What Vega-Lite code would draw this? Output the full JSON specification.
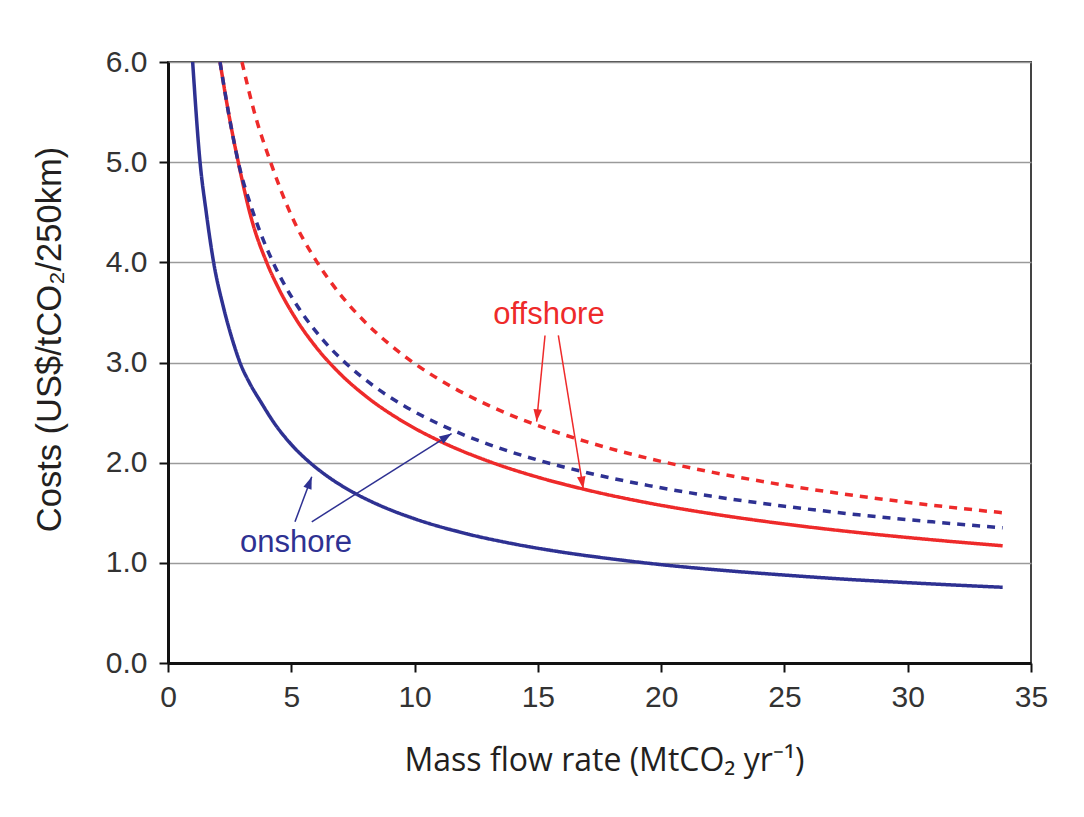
{
  "$schema": "https://vega.github.io/schema/vega-lite/v6.json",
  "width": 863,
  "height": 601,
  "autosize": {"type": "none"},
  "padding": {"left": 168, "top": 62, "right": 53, "bottom": 154},
  "background": "white",
  "config": {
    "view": {"stroke": "#444444", "strokeWidth": 2},
    "axis": {
      "domainColor": "#111111", "domainWidth": 3,
      "tickColor": "#111111", "tickWidth": 2, "tickSize": 9,
      "labelFont": "Liberation Sans", "labelFontSize": 30, "labelColor": "#333333",
      "labelFlush": false, "labelOverlap": false,
      "titleColor": "#231f20", "titleFontWeight": "normal"
    }
  },
  "datasets": {
    "curves": [
      {"location": "onshore", "estimate": "low", "x": 1.0, "y": 6.0},
      {"location": "onshore", "estimate": "low", "x": 1.3, "y": 5.0},
      {"location": "onshore", "estimate": "low", "x": 1.55, "y": 4.5},
      {"location": "onshore", "estimate": "low", "x": 1.85, "y": 4.0},
      {"location": "onshore", "estimate": "low", "x": 2.25, "y": 3.55},
      {"location": "onshore", "estimate": "low", "x": 2.62, "y": 3.22},
      {"location": "onshore", "estimate": "low", "x": 2.95, "y": 2.98},
      {"location": "onshore", "estimate": "low", "x": 3.3, "y": 2.8},
      {"location": "onshore", "estimate": "low", "x": 3.8, "y": 2.592},
      {"location": "onshore", "estimate": "low", "x": 4.3, "y": 2.398},
      {"location": "onshore", "estimate": "low", "x": 5.0, "y": 2.182},
      {"location": "onshore", "estimate": "low", "x": 5.76, "y": 2.0},
      {"location": "onshore", "estimate": "low", "x": 6.5, "y": 1.858},
      {"location": "onshore", "estimate": "low", "x": 7.5, "y": 1.705},
      {"location": "onshore", "estimate": "low", "x": 8.5, "y": 1.583},
      {"location": "onshore", "estimate": "low", "x": 10.0, "y": 1.44},
      {"location": "onshore", "estimate": "low", "x": 12.0, "y": 1.297},
      {"location": "onshore", "estimate": "low", "x": 14.0, "y": 1.19},
      {"location": "onshore", "estimate": "low", "x": 16.0, "y": 1.106},
      {"location": "onshore", "estimate": "low", "x": 18.0, "y": 1.039},
      {"location": "onshore", "estimate": "low", "x": 20.0, "y": 0.982},
      {"location": "onshore", "estimate": "low", "x": 22.5, "y": 0.925},
      {"location": "onshore", "estimate": "low", "x": 25.0, "y": 0.878},
      {"location": "onshore", "estimate": "low", "x": 27.5, "y": 0.836},
      {"location": "onshore", "estimate": "low", "x": 30.0, "y": 0.802},
      {"location": "onshore", "estimate": "low", "x": 32.0, "y": 0.777},
      {"location": "onshore", "estimate": "low", "x": 33.85, "y": 0.756},

      {"location": "offshore", "estimate": "low", "x": 2.11, "y": 6.0},
      {"location": "offshore", "estimate": "low", "x": 2.45, "y": 5.5},
      {"location": "offshore", "estimate": "low", "x": 2.85, "y": 5.0},
      {"location": "offshore", "estimate": "low", "x": 3.4, "y": 4.42},
      {"location": "offshore", "estimate": "low", "x": 4.0, "y": 4.0},
      {"location": "offshore", "estimate": "low", "x": 4.5, "y": 3.733},
      {"location": "offshore", "estimate": "low", "x": 5.2, "y": 3.43},
      {"location": "offshore", "estimate": "low", "x": 6.0, "y": 3.155},
      {"location": "offshore", "estimate": "low", "x": 7.0, "y": 2.883},
      {"location": "offshore", "estimate": "low", "x": 8.0, "y": 2.668},
      {"location": "offshore", "estimate": "low", "x": 9.5, "y": 2.415},
      {"location": "offshore", "estimate": "low", "x": 11.0, "y": 2.218},
      {"location": "offshore", "estimate": "low", "x": 13.0, "y": 2.014},
      {"location": "offshore", "estimate": "low", "x": 15.0, "y": 1.855},
      {"location": "offshore", "estimate": "low", "x": 17.0, "y": 1.727},
      {"location": "offshore", "estimate": "low", "x": 19.5, "y": 1.597},
      {"location": "offshore", "estimate": "low", "x": 22.0, "y": 1.492},
      {"location": "offshore", "estimate": "low", "x": 25.0, "y": 1.388},
      {"location": "offshore", "estimate": "low", "x": 28.0, "y": 1.302},
      {"location": "offshore", "estimate": "low", "x": 31.0, "y": 1.23},
      {"location": "offshore", "estimate": "low", "x": 33.85, "y": 1.17},

      {"location": "onshore", "estimate": "high", "x": 2.11, "y": 6.0},
      {"location": "onshore", "estimate": "high", "x": 2.45, "y": 5.5},
      {"location": "onshore", "estimate": "high", "x": 2.85, "y": 5.0},
      {"location": "onshore", "estimate": "high", "x": 3.45, "y": 4.5},
      {"location": "onshore", "estimate": "high", "x": 4.26, "y": 4.0},
      {"location": "onshore", "estimate": "high", "x": 4.8, "y": 3.744},
      {"location": "onshore", "estimate": "high", "x": 5.5, "y": 3.472},
      {"location": "onshore", "estimate": "high", "x": 6.3, "y": 3.221},
      {"location": "onshore", "estimate": "high", "x": 7.2, "y": 2.995},
      {"location": "onshore", "estimate": "high", "x": 8.3, "y": 2.773},
      {"location": "onshore", "estimate": "high", "x": 9.6, "y": 2.564},
      {"location": "onshore", "estimate": "high", "x": 11.2, "y": 2.362},
      {"location": "onshore", "estimate": "high", "x": 13.0, "y": 2.183},
      {"location": "onshore", "estimate": "high", "x": 15.0, "y": 2.026},
      {"location": "onshore", "estimate": "high", "x": 17.0, "y": 1.9},
      {"location": "onshore", "estimate": "high", "x": 19.5, "y": 1.771},
      {"location": "onshore", "estimate": "high", "x": 22.0, "y": 1.667},
      {"location": "onshore", "estimate": "high", "x": 25.0, "y": 1.565},
      {"location": "onshore", "estimate": "high", "x": 28.0, "y": 1.48},
      {"location": "onshore", "estimate": "high", "x": 31.0, "y": 1.409},
      {"location": "onshore", "estimate": "high", "x": 33.85, "y": 1.35},

      {"location": "offshore", "estimate": "high", "x": 3.0, "y": 6.0},
      {"location": "offshore", "estimate": "high", "x": 3.5, "y": 5.5},
      {"location": "offshore", "estimate": "high", "x": 4.16, "y": 5.0},
      {"location": "offshore", "estimate": "high", "x": 5.0, "y": 4.47},
      {"location": "offshore", "estimate": "high", "x": 6.05, "y": 4.0},
      {"location": "offshore", "estimate": "high", "x": 6.6, "y": 3.803},
      {"location": "offshore", "estimate": "high", "x": 7.25, "y": 3.601},
      {"location": "offshore", "estimate": "high", "x": 8.0, "y": 3.402},
      {"location": "offshore", "estimate": "high", "x": 9.0, "y": 3.178},
      {"location": "offshore", "estimate": "high", "x": 10.0, "y": 2.99},
      {"location": "offshore", "estimate": "high", "x": 11.5, "y": 2.759},
      {"location": "offshore", "estimate": "high", "x": 13.0, "y": 2.572},
      {"location": "offshore", "estimate": "high", "x": 15.0, "y": 2.37},
      {"location": "offshore", "estimate": "high", "x": 17.0, "y": 2.207},
      {"location": "offshore", "estimate": "high", "x": 19.5, "y": 2.042},
      {"location": "offshore", "estimate": "high", "x": 22.0, "y": 1.908},
      {"location": "offshore", "estimate": "high", "x": 25.0, "y": 1.776},
      {"location": "offshore", "estimate": "high", "x": 28.0, "y": 1.667},
      {"location": "offshore", "estimate": "high", "x": 31.0, "y": 1.575},
      {"location": "offshore", "estimate": "high", "x": 33.85, "y": 1.5}
    ],
    "arrows": [
      {"location": "offshore", "x1": 15.29, "y1": 3.27, "x2": 14.95, "y2": 2.41, "angle": 185.5},
      {"location": "offshore", "x1": 15.83, "y1": 3.27, "x2": 16.84, "y2": 1.74, "angle": 170.7},
      {"location": "onshore", "x1": 5.15, "y1": 1.41, "x2": 5.83, "y2": 1.86, "angle": 20.4},
      {"location": "onshore", "x1": 5.83, "y1": 1.41, "x2": 11.5, "y2": 2.29, "angle": 57.9}
    ],
    "labels": [
      {"location": "offshore", "text": "offshore", "x": 15.45, "y": 3.38},
      {"location": "onshore", "text": "onshore", "x": 5.19, "y": 1.11}
    ]
  },
  "layer": [
    {
      "data": {"name": "curves"},
      "transform": [{"filter": "datum.estimate === 'low'"}],
      "mark": {"type": "line", "strokeWidth": 3.5, "interpolate": "monotone"},
      "encoding": {
        "x": {
          "field": "x", "type": "quantitative",
          "scale": {"domain": [0, 35], "nice": false, "zero": false},
          "axis": {
            "values": [0, 5, 10, 15, 20, 25, 30, 35], "grid": false,
            "labelPadding": 10,
            "title": "Mass flow rate (MtCO₂ yr⁻¹)",
            "titleFont": "Open Sans", "titleFontSize": 32,
            "titleX": 436, "titleY": 107, "titleAlign": "center", "titleBaseline": "alphabetic"
          }
        },
        "y": {
          "field": "y", "type": "quantitative",
          "scale": {"domain": [0, 6], "nice": false},
          "axis": {
            "values": [0, 1, 2, 3, 4, 5, 6], "format": ".1f",
            "grid": true, "gridColor": "#9a9a9a", "gridWidth": 1.5,
            "labelPadding": 12,
            "title": "Costs (US$/tCO₂/250km)",
            "titleFont": "Liberation Sans", "titleFontSize": 34.5,
            "titleAngle": -90, "titleX": -118, "titleY": 277,
            "titleAlign": "center", "titleBaseline": "middle"
          }
        },
        "color": {
          "field": "location", "type": "nominal",
          "scale": {"domain": ["onshore", "offshore"], "range": ["#2e3192", "#ee2a2a"]},
          "legend": null
        },
        "strokeDash": {
          "field": "estimate", "type": "nominal",
          "scale": {"domain": ["low", "high"], "range": [[1, 0], [8, 7]]},
          "legend": null
        },
        "order": {"field": "x", "type": "quantitative"}
      }
    },
    {
      "data": {"name": "curves"},
      "transform": [{"filter": "datum.estimate === 'high'"}],
      "mark": {"type": "line", "strokeWidth": 3.5, "interpolate": "monotone"},
      "encoding": {
        "x": {"field": "x", "type": "quantitative"},
        "y": {"field": "y", "type": "quantitative"},
        "color": {"field": "location", "type": "nominal", "legend": null},
        "strokeDash": {"field": "estimate", "type": "nominal", "legend": null},
        "order": {"field": "x", "type": "quantitative"}
      }
    },
    {
      "data": {"name": "arrows"},
      "mark": {"type": "rule", "strokeWidth": 1.5},
      "encoding": {
        "x": {"field": "x1", "type": "quantitative"},
        "y": {"field": "y1", "type": "quantitative"},
        "x2": {"field": "x2"},
        "y2": {"field": "y2"},
        "color": {"field": "location", "type": "nominal", "legend": null}
      }
    },
    {
      "data": {"name": "arrows"},
      "mark": {"type": "point", "shape": "M0,0L-0.7,2L0.7,2Z", "filled": true, "opacity": 1, "size": 150},
      "encoding": {
        "x": {"field": "x2", "type": "quantitative"},
        "y": {"field": "y2", "type": "quantitative"},
        "angle": {"field": "angle", "type": "quantitative", "scale": null},
        "color": {"field": "location", "type": "nominal", "legend": null}
      }
    },
    {
      "data": {"name": "labels"},
      "mark": {"type": "text", "font": "Liberation Sans", "fontSize": 31, "align": "center", "baseline": "alphabetic"},
      "encoding": {
        "x": {"field": "x", "type": "quantitative"},
        "y": {"field": "y", "type": "quantitative"},
        "text": {"field": "text"},
        "color": {"field": "location", "type": "nominal", "legend": null}
      }
    }
  ]
}
